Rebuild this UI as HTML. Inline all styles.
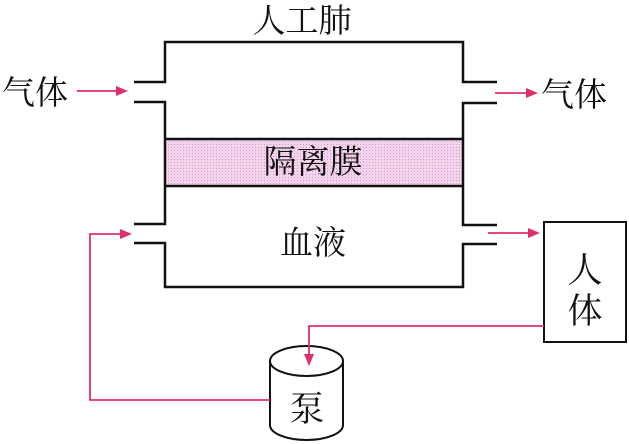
<!DOCTYPE html>
<html><head><meta charset="utf-8"><style>
html,body{margin:0;padding:0;background:#fff;}
svg{display:block;}
text{font-family:"Noto Serif CJK SC","Liberation Serif",serif;fill:#111;}
</style></head><body>
<svg width="629" height="444" viewBox="0 0 629 444" xmlns="http://www.w3.org/2000/svg">
<defs>
<pattern id="dots" width="3" height="3" patternUnits="userSpaceOnUse">
<rect width="3" height="3" fill="#f4d4ec"/><rect width="1" height="1" fill="#d89ac4"/>
</pattern>
</defs>
<rect x="165" y="139" width="298" height="47" fill="url(#dots)"/>
<g stroke="#111" stroke-width="2.5" fill="none">
<path d="M134 82 H165 V42 H463 V82 H497"/>
<path d="M134 102 H165 V224 H134"/>
<path d="M497 103 H463 V225 H497"/>
<path d="M134 243 H165 V287 H463 V244 H497"/>
<line x1="165" y1="139" x2="463" y2="139"/>
<line x1="165" y1="186" x2="463" y2="186"/>
<rect x="544" y="222" width="82" height="120" stroke-width="2"/>
<path d="M270 361 V425 A36.5 15 0 0 0 343 425 V361" stroke-width="2"/>
<ellipse cx="306.5" cy="361" rx="36.5" ry="15" stroke-width="2"/>
</g>
<g stroke="#e0306a" stroke-width="1.8" fill="none">
<line x1="77" y1="91" x2="118" y2="91"/>
<line x1="495" y1="93" x2="528" y2="93"/>
<line x1="488" y1="233" x2="530" y2="233"/>
<path d="M544 326 H309 V356"/>
<path d="M270 400 H90 V234 H122"/>
</g>
<g fill="#e0306a">
<polygon points="128,91 116,86 116,96"/>
<polygon points="538,93 526,88 526,98"/>
<polygon points="540,233 528,228 528,238"/>
<polygon points="309,366 304,354 314,354"/>
<polygon points="132,234 120,229 120,239"/>
</g>
<g font-size="33">
<text x="302" y="32" text-anchor="middle">人工肺</text>
<text x="2" y="104">气体</text>
<text x="541" y="106">气体</text>
<text x="313" y="173" text-anchor="middle">隔离膜</text>
<text x="313" y="254" text-anchor="middle">血液</text>
<text x="585" y="282" text-anchor="middle" font-size="35">人</text>
<text x="585" y="323" text-anchor="middle" font-size="35">体</text>
<text x="307" y="421" text-anchor="middle" font-size="35">泵</text>
</g>
</svg>
</body></html>
